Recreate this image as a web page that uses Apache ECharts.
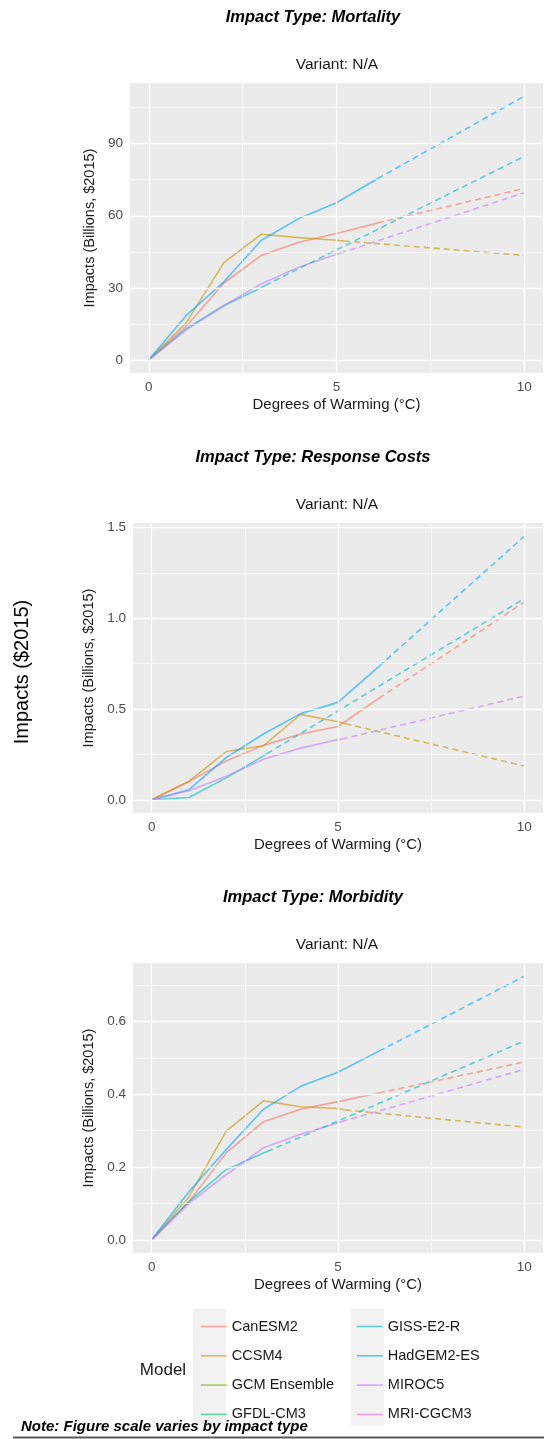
<!DOCTYPE html>
<html>
<head>
<meta charset="utf-8">
<script src="https://cdn.jsdelivr.net/npm/echarts@6/dist/echarts.min.js"></script>
<style>
  html, body { margin: 0; padding: 0; background: #ffffff; }
  #chart { width: 544px; height: 1439px; }
</style>
</head>
<body>
<div id="chart"></div>
<script>
// ---- Models and colours (ggplot hue palette) ----
const modelNames  = ['CanESM2', 'CCSM4', 'GCM Ensemble', 'GFDL-CM3', 'GISS-E2-R', 'HadGEM2-ES', 'MIROC5', 'MRI-CGCM3'];
const modelColors = ['#F8766D', '#CD9600', '#7CAE00', '#00BE67', '#00BFC4', '#00A9FF', '#C77CFF', '#FF61CC'];
const plottedModels = ['CanESM2', 'CCSM4', 'GISS-E2-R', 'HadGEM2-ES', 'MIROC5'];

// Warming levels (°C) covered by each model's own runs (solid part)
const warmingCanESM2 = [0, 1, 2, 3, 4, 5, 6.1];
const warmingCCSM4   = [0, 1, 2, 3, 4, 5, 5.2];
const warmingGISS    = [0, 1, 2, 3, 3.1];
const warmingHadGEM2 = [0, 1, 2, 3, 4, 5, 6.1];
const warmingMIROC5  = [0, 1, 2, 3, 4, 5, 5.1];
const extrapolatedWarming = 10;

// Mortality, billions $2015
const mortalityCanESM2 = [0, 14, 32, 43.5, 49, 52.6, 57];
const mortalityCCSM4   = [0, 15.5, 40.5, 52.3, 50.9, 49.8, 49.5];
const mortalityGISS    = [0, 13, 22.6, 30, 31];
const mortalityHadGEM2 = [0, 18.5, 32.5, 49.8, 58.9, 65.4, 75.5];
const mortalityMIROC5  = [0, 12.5, 22.5, 31.7, 38.6, 44, 44.4];
const mortalityAt10    = [71.4, 43.5, 84.7, 109.8, 69.6];

// Response costs, billions $2015
const responseCanESM2 = [0, 0.1, 0.214, 0.3, 0.363, 0.404, 0.56];
const responseCCSM4   = [0, 0.102, 0.266, 0.298, 0.471, 0.43, 0.42];
const responseGISS    = [0, 0.013, 0.121, 0.242, 0.255];
const responseHadGEM2 = [0, 0.056, 0.233, 0.363, 0.475, 0.537, 0.736];
const responseMIROC5  = [0, 0.05, 0.13, 0.224, 0.285, 0.332, 0.335];
const responseAt10    = [1.09, 0.186, 1.109, 1.453, 0.572];

// Morbidity, billions $2015
const morbidityCanESM2 = [0, 0.105, 0.239, 0.325, 0.359, 0.38, 0.404];
const morbidityCCSM4   = [0, 0.118, 0.299, 0.382, 0.366, 0.361, 0.357];
const morbidityGISS    = [0, 0.105, 0.193, 0.239, 0.243];
const morbidityHadGEM2 = [0, 0.132, 0.248, 0.359, 0.422, 0.461, 0.519];
const morbidityMIROC5  = [0, 0.1, 0.179, 0.253, 0.29, 0.322, 0.325];
const morbidityAt10    = [0.489, 0.31, 0.547, 0.725, 0.469];

// Axis tick labels
const xTicks = [0, 5, 10];
const mortalityTicks = [0, 30, 60, 90];
const responseTicks  = [0, 0.5, 1.0, 1.5];
const morbidityTicks = [0, 0.2, 0.4, 0.6];

const panelTitles = ['Impact Type: Mortality', 'Impact Type: Response Costs', 'Impact Type: Morbidity'];
const variantLabel = 'Variant: N/A';

// ---- Assemble panels ----
const warmingByModel = [warmingCanESM2, warmingCCSM4, warmingGISS, warmingHadGEM2, warmingMIROC5];
const panels = [
  { values: [mortalityCanESM2, mortalityCCSM4, mortalityGISS, mortalityHadGEM2, mortalityMIROC5], at10: mortalityAt10, ticks: mortalityTicks, decimals: 0 },
  { values: [responseCanESM2, responseCCSM4, responseGISS, responseHadGEM2, responseMIROC5], at10: responseAt10, ticks: responseTicks, decimals: 1 },
  { values: [morbidityCanESM2, morbidityCCSM4, morbidityGISS, morbidityHadGEM2, morbidityMIROC5], at10: morbidityAt10, ticks: morbidityTicks, decimals: 1 }
];

const FONT = '"Liberation Sans", Arial, Helvetica, sans-serif';
const PANEL_STEP = 440;
const PANEL_HEIGHT = 290;
const gridLefts = [130, 133, 133];
const LINE_ALPHA = 0.62;
const LINE_WIDTH = 1.6;

function colorOf(name) { return modelColors[modelNames.indexOf(name)]; }

const grids = [], xAxes = [], yAxes = [], series = [], graphics = [];

panels.forEach((p, i) => {
  const top = 83 + i * PANEL_STEP;
  grids.push({ left: gridLefts[i], right: 1, top: top, height: PANEL_HEIGHT, show: true, backgroundColor: '#EBEBEB', borderWidth: 0 });

  xAxes.push({
    type: 'value', gridIndex: i, min: -0.5, max: 10.5,
    name: 'Degrees of Warming (°C)', nameLocation: 'middle', nameGap: 24,
    nameTextStyle: { fontFamily: FONT, fontSize: 15, color: '#1A1A1A' },
    axisLine: { show: false },
    axisTick: { show: true, length: 4, customValues: xTicks, lineStyle: { color: '#333333', width: 1 } },
    axisLabel: { customValues: xTicks, margin: 7, fontFamily: FONT, fontSize: 13.5, color: '#4D4D4D' },
    splitLine: { show: false }
  });

  yAxes.push({
    type: 'value', gridIndex: i,
    min: v => -0.05 * v.max, max: v => 1.05 * v.max,
    name: 'Impacts (Billions, $2015)', nameLocation: 'middle', nameGap: gridLefts[i] - 99,
    nameTextStyle: { fontFamily: FONT, fontSize: 14.5, color: '#1A1A1A' },
    axisLine: { show: false },
    axisTick: { show: true, length: 4, customValues: p.ticks, lineStyle: { color: '#333333', width: 1 } },
    axisLabel: { customValues: p.ticks, margin: 7, fontFamily: FONT, fontSize: 13.5, color: '#4D4D4D',
                 formatter: v => Number(v).toFixed(p.decimals) },
    splitLine: { show: false }
  });

  // Panel grid lines: major at ticks, minor half-way between
  const step = p.ticks[1] - p.ticks[0];
  const minorY = p.ticks.map(t => t + step / 2);
  const minorX = [2.5, 7.5];
  const major = () => ({ lineStyle: { color: '#FFFFFF', width: 1.3, type: 'solid' } });
  const minor = () => ({ lineStyle: { color: '#FFFFFF', width: 0.6, type: 'solid' } });
  const gridLineData = []
    .concat(minorY.map(v => Object.assign({ yAxis: v }, minor())))
    .concat(minorX.map(v => Object.assign({ xAxis: v }, minor())))
    .concat(p.ticks.map(v => Object.assign({ yAxis: v }, major())))
    .concat(xTicks.map(v => Object.assign({ xAxis: v }, major())));
  series.push({
    type: 'line', name: '_panelGrid' + i, xAxisIndex: i, yAxisIndex: i, z: 1,
    data: [[0, 0]], showSymbol: false, symbol: 'none', lineStyle: { opacity: 0 }, silent: true,
    markLine: { silent: true, symbol: ['none', 'none'], label: { show: false }, emphasis: { disabled: true },
                animation: false, data: gridLineData }
  });

  // Solid lines over each model's own warming range
  plottedModels.forEach((m, k) => {
    const xs = warmingByModel[k];
    series.push({
      type: 'line', name: m, xAxisIndex: i, yAxisIndex: i, z: 2,
      data: xs.map((x, j) => [x, p.values[k][j]]),
      symbol: 'none', color: colorOf(m),
      lineStyle: { width: LINE_WIDTH, color: colorOf(m), opacity: LINE_ALPHA },
      emphasis: { disabled: true }
    });
  });
  // Dashed extrapolation to 10 °C
  plottedModels.forEach((m, k) => {
    const xs = warmingByModel[k];
    const last = xs.length - 1;
    series.push({
      type: 'line', name: m, xAxisIndex: i, yAxisIndex: i, z: 3,
      data: [[xs[last], p.values[k][last]], [extrapolatedWarming, p.at10[k]]],
      symbol: 'none', color: colorOf(m),
      lineStyle: { width: LINE_WIDTH, color: colorOf(m), opacity: LINE_ALPHA, type: [6, 4] },
      emphasis: { disabled: true }
    });
  });

  // Facet titles
  graphics.push({ type: 'text', x: 313, y: 17 + i * PANEL_STEP,
    style: { text: panelTitles[i], font: 'italic bold 16.5px ' + FONT, fill: '#000000', align: 'center', verticalAlign: 'middle' } });
  graphics.push({ type: 'text', x: 337, y: 65 + i * PANEL_STEP,
    style: { text: variantLabel, font: '15.5px ' + FONT, fill: '#1A1A1A', align: 'center', verticalAlign: 'middle' } });
});

// Models that appear only in the legend
['GCM Ensemble', 'GFDL-CM3', 'MRI-CGCM3'].forEach(m => {
  series.push({ type: 'line', name: m, xAxisIndex: 0, yAxisIndex: 0, data: [], symbol: 'none',
    color: colorOf(m), lineStyle: { width: LINE_WIDTH, color: colorOf(m), opacity: LINE_ALPHA } });
});

// Shared y title, legend key backgrounds, legend title, note, rule
graphics.push({ type: 'text', x: 22, y: 672, rotation: Math.PI / 2,
  style: { text: 'Impacts ($2015)', font: '20px ' + FONT, fill: '#000000', align: 'center', verticalAlign: 'middle' } });
graphics.push({ type: 'rect', shape: { x: 193, y: 1309, width: 33, height: 117 }, style: { fill: '#F2F2F2' }, z: -1 });
graphics.push({ type: 'rect', shape: { x: 351, y: 1309, width: 33, height: 117 }, style: { fill: '#F2F2F2' }, z: -1 });
graphics.push({ type: 'text', x: 163, y: 1370,
  style: { text: 'Model', font: '17px ' + FONT, fill: '#1A1A1A', align: 'center', verticalAlign: 'middle' } });
graphics.push({ type: 'text', x: 21, y: 1427,
  style: { text: 'Note: Figure scale varies by impact type', font: 'italic bold 15px ' + FONT, fill: '#000000', align: 'left', verticalAlign: 'middle' } });
graphics.push({ type: 'line', shape: { x1: 13, y1: 1437.5, x2: 544, y2: 1437.5 }, style: { stroke: '#5A5A5A', lineWidth: 2 } });

const legendCommon = {
  orient: 'vertical', padding: 0, itemWidth: 26, itemHeight: 14, itemGap: 14.3, selectedMode: false,
  itemStyle: { opacity: 0 },
  lineStyle: { width: LINE_WIDTH },
  textStyle: { fontFamily: FONT, fontSize: 14.5, color: '#1A1A1A', lineHeight: 14 }
};

const chart = echarts.init(document.getElementById('chart'), null, { renderer: 'canvas' });
chart.setOption({
  animation: false,
  backgroundColor: '#FFFFFF',
  grid: grids,
  xAxis: xAxes,
  yAxis: yAxes,
  legend: [
    Object.assign({ left: 200, top: 1319, data: modelNames.slice(0, 4) }, legendCommon),
    Object.assign({ left: 356, top: 1319, data: modelNames.slice(4) }, legendCommon)
  ],
  graphic: { elements: graphics },
  series: series
});
</script>
</body>
</html>
